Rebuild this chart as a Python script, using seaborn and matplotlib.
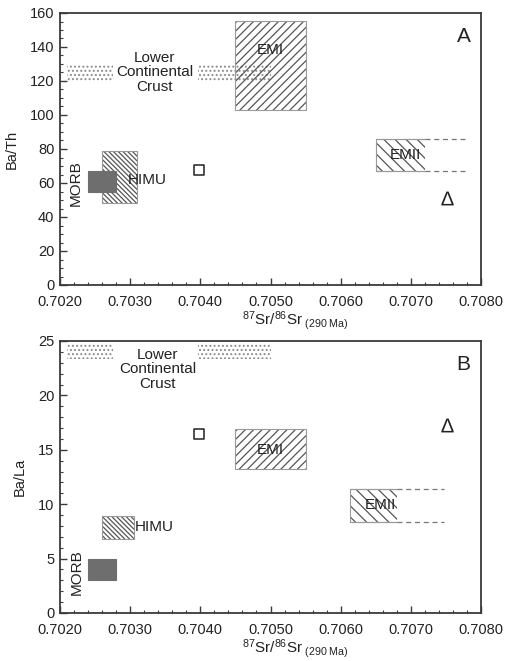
import matplotlib
matplotlib.use("Agg")
import matplotlib.pyplot as plt
from matplotlib.patches import Rectangle
from matplotlib.ticker import MultipleLocator, FormatStrFormatter
import pandas as pd
import seaborn as sns

# Mantle reservoir fields: Sr isotope range and trace-element ratio range
morb_sr_a = (0.7024, 0.7028)
morb_bath = (55, 67)
himu_sr_a = (0.7026, 0.7031)
himu_bath = (48, 79)
emi_sr_a = (0.7045, 0.7055)
emi_bath = (103, 155)
emii_sr_a = (0.7065, 0.7072, 0.7078)   # start, end of hatching, end of dashed extension
emii_bath = (67, 86)
lcc_sr = ((0.7021, 0.70276), (0.70396, 0.7050))
lcc_bath = (120, 130)

morb_sr_b = (0.7024, 0.7028)
morb_bala = (3.0, 5.0)
himu_sr_b = (0.7026, 0.70305)
himu_bala = (6.8, 8.9)
emi_sr_b = (0.7045, 0.7055)
emi_bala = (13.2, 16.9)
emii_sr_b = (0.70613, 0.7068, 0.70747)
emii_bala = (8.4, 11.4)
lcc_bala = (23.3, 24.7)

# Samples
sample_names = ["square", "triangle"]
sample_sr = [0.70398, 0.70751]
sample_bath = [67.5, 51]
sample_bala = [16.45, 17.3]

sns.set_theme(style="ticks")
plt.rcParams["font.family"] = ["Liberation Sans", "DejaVu Sans"]
plt.rcParams["mathtext.fontset"] = "custom"
plt.rcParams["mathtext.rm"] = "Liberation Sans"
plt.rcParams["mathtext.it"] = "Liberation Sans"
plt.rcParams["hatch.linewidth"] = 0.9

DARK = "#3a3a3a"
HATCH = "#555555"
EDGE = "#9a9a9a"

fig = plt.figure(figsize=(5.06, 6.61), dpi=100)
ax_a = fig.add_axes([60 / 506, 1 - 285 / 661, 421 / 506, 272 / 661])
ax_b = fig.add_axes([60 / 506, 1 - 613 / 661, 421 / 506, 272 / 661])


def hatched_box(ax, x0, x1, y0, y1, hatch, outline=True):
    ax.add_patch(Rectangle((x0, y0), x1 - x0, y1 - y0, facecolor="none",
                           edgecolor=HATCH, hatch=hatch, lw=0, zorder=2))
    if outline:
        ax.add_patch(Rectangle((x0, y0), x1 - x0, y1 - y0, facecolor="none",
                               edgecolor=EDGE, lw=0.8, zorder=2))


def morb_box(ax, xs, ys):
    ax.add_patch(Rectangle((xs[0], ys[0]), xs[1] - xs[0], ys[1] - ys[0],
                           facecolor="#6e6e6e", edgecolor="#6e6e6e", lw=0.8, zorder=3))


def emii_field(ax, xs, ys):
    x0, xh, x1 = xs
    y0, y1 = ys
    ax.add_patch(Rectangle((x0, y0), xh - x0, y1 - y0, facecolor="none",
                           edgecolor=HATCH, hatch="\\\\\\", lw=0, zorder=2))
    ax.plot([x0, x0], [y0, y1], color=EDGE, lw=0.8, zorder=2)
    for y in (y0, y1):
        ax.plot([x0, xh], [y, y], color=EDGE, lw=0.9, zorder=2)
        ax.plot([xh, x1], [y, y], color="#777777", lw=0.9, ls=(0, (4, 3)), zorder=2)


def lcc_band(ax, ys):
    for x0, x1 in lcc_sr:
        ax.add_patch(Rectangle((x0, ys[0]), x1 - x0, ys[1] - ys[0], facecolor="none",
                               edgecolor="#8a8a8a", hatch="....", lw=0, zorder=1))


def style_axes(ax, ymax, ymajor, yminor, ylabel, panel):
    ax.set_xlim(0.7020, 0.7080)
    ax.set_ylim(0, ymax)
    ax.xaxis.set_major_locator(MultipleLocator(0.001))
    ax.xaxis.set_minor_locator(MultipleLocator(0.0002))
    ax.xaxis.set_major_formatter(FormatStrFormatter("%.4f"))
    ax.yaxis.set_major_locator(MultipleLocator(ymajor))
    ax.yaxis.set_minor_locator(MultipleLocator(yminor))
    ax.tick_params(which="major", direction="in", length=5, width=1, colors=DARK,
                   labelsize=10.5, labelcolor="#222222", pad=4)
    ax.tick_params(axis="x", which="major", pad=7)
    ax.tick_params(which="minor", direction="in", length=2.5, width=0.8, colors=DARK)
    for s in ax.spines.values():
        s.set_color(DARK)
        s.set_linewidth(1.3)
        s.set_visible(True)
    ax.set_ylabel(ylabel, fontsize=10.5, color="#222222", labelpad=8)
    ax.set_xlabel(r"$^{87}$Sr/$^{86}$Sr$_{\ (290\ \mathrm{Ma})}$", fontsize=11, color="#222222")
    ax.xaxis.set_label_coords(0.56, -0.09)
    ax.text(0.975, 0.95, panel, transform=ax.transAxes, ha="right", va="top",
            fontsize=15, color="#222222")
    ax.set_facecolor("white")


# Panel A: Ba/Th
lcc_band(ax_a, lcc_bath)
hatched_box(ax_a, *emi_sr_a, *emi_bath, "////")
hatched_box(ax_a, *himu_sr_a, *himu_bath, "\\\\\\\\\\\\\\")
morb_box(ax_a, morb_sr_a, morb_bath)
emii_field(ax_a, emii_sr_a, emii_bath)

df_a = pd.DataFrame({"sr": sample_sr, "ratio": sample_bath, "name": sample_names})
sns.scatterplot(data=df_a[df_a.name == "square"], x="sr", y="ratio", marker="s", s=55,
                facecolor="white", edgecolor="#222222", linewidth=1.1, ax=ax_a, zorder=4)
sns.scatterplot(data=df_a[df_a.name == "triangle"], x="sr", y="ratio", marker=r"$\Delta$", s=100,
                color="#222222", linewidth=0, ax=ax_a, zorder=4)

tk = dict(fontsize=11, color="#222222", zorder=5)
ax_a.text(0.70335, 125, "Lower\nContinental\nCrust", ha="center", va="center",
          linespacing=1.05, **tk)
ax_a.text(0.70297, 62, "HIMU", ha="left", va="center", **tk)
ax_a.text(0.70223, 60, "MORB", ha="center", va="center", rotation=90, **tk)
ax_a.text(0.7050, 138, "EMI", ha="center", va="center", **tk)
ax_a.text(0.70693, 76.5, "EMII", ha="center", va="center", **tk)
style_axes(ax_a, 160, 20, 5, "Ba/Th", "A")

# Panel B: Ba/La
lcc_band(ax_b, lcc_bala)
hatched_box(ax_b, *emi_sr_b, *emi_bala, "////")
hatched_box(ax_b, *himu_sr_b, *himu_bala, "\\\\\\\\\\\\\\")
morb_box(ax_b, morb_sr_b, morb_bala)
emii_field(ax_b, emii_sr_b, emii_bala)

df_b = pd.DataFrame({"sr": sample_sr, "ratio": sample_bala, "name": sample_names})
sns.scatterplot(data=df_b[df_b.name == "square"], x="sr", y="ratio", marker="s", s=55,
                facecolor="white", edgecolor="#222222", linewidth=1.1, ax=ax_b, zorder=4)
sns.scatterplot(data=df_b[df_b.name == "triangle"], x="sr", y="ratio", marker=r"$\Delta$", s=100,
                color="#222222", linewidth=0, ax=ax_b, zorder=4)

ax_b.text(0.70339, 22.4, "Lower\nContinental\nCrust", ha="center", va="center",
          linespacing=1.05, **tk)
ax_b.text(0.70306, 7.9, "HIMU", ha="left", va="center", **tk)
ax_b.text(0.70224, 3.8, "MORB", ha="center", va="center", rotation=90, **tk)
ax_b.text(0.7050, 15.0, "EMI", ha="center", va="center", **tk)
ax_b.text(0.70656, 9.9, "EMII", ha="center", va="center", **tk)
style_axes(ax_b, 25, 5, 1, "Ba/La", "B")

fig.savefig("out.png", dpi=100, facecolor="white")
